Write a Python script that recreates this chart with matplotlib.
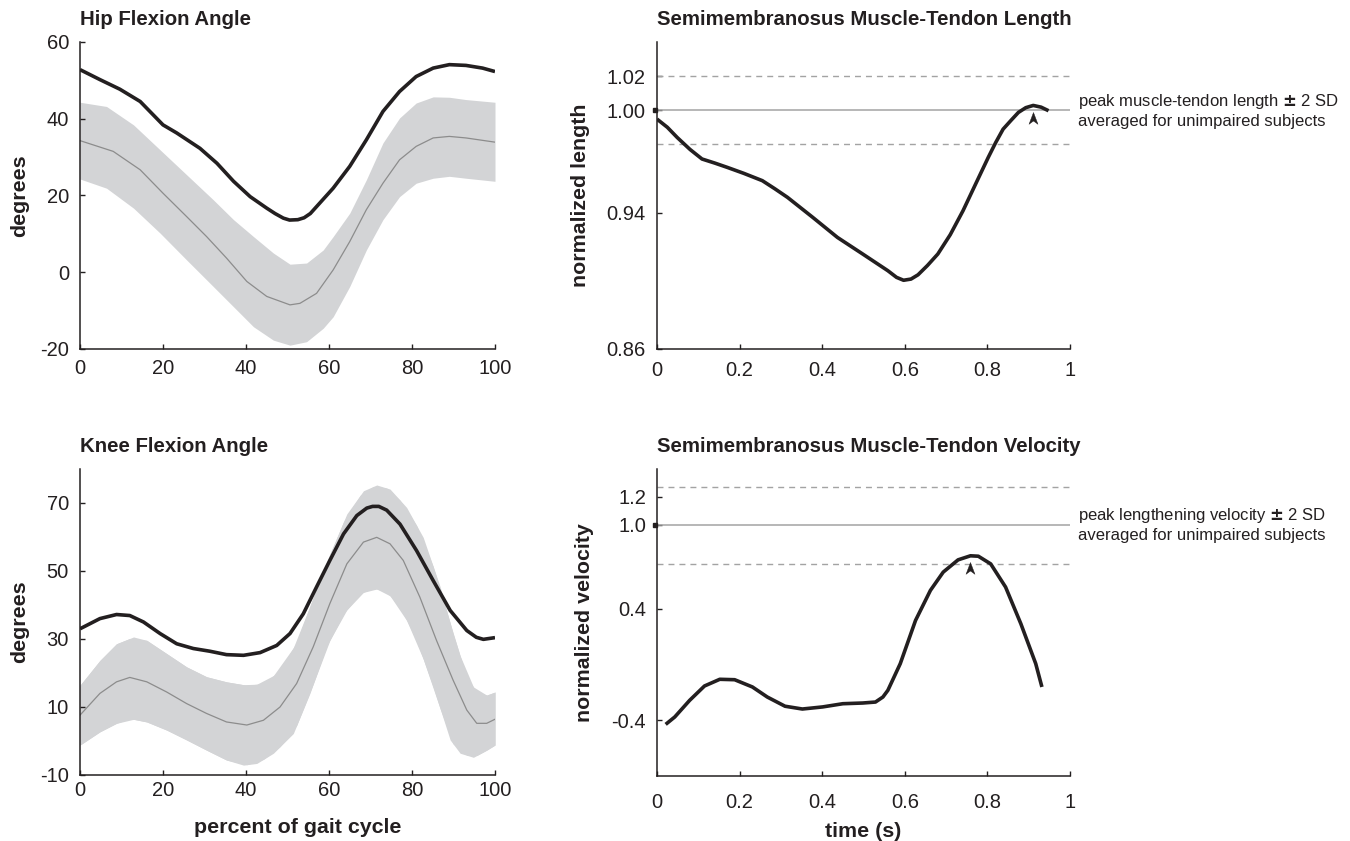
import numpy as np
import matplotlib
matplotlib.use("Agg")
import matplotlib.pyplot as plt
from matplotlib.path import Path
import matplotlib.transforms as mtransforms

plt.rcParams['font.family'] = ['Liberation Sans', 'DejaVu Sans']
plt.rcParams['axes.unicode_minus'] = False

# ---------------- data ----------------
hip_x = [0, 4.8, 9.6, 14.5, 20, 23.3, 28.9, 33, 37, 41, 45, 47, 49, 50.5, 52.5, 54, 55.5, 57, 61, 65, 69, 73, 77, 81, 85.1, 89, 93, 97, 100]
hip_subject = [52.8, 50.2, 47.7, 44.5, 38.4, 36.3, 32.3, 28.4, 23.7, 19.7, 16.7, 15.3, 14.1, 13.6, 13.7, 14.2, 15.3, 17.1, 21.9, 27.6, 34.5, 41.9, 47.1, 51.0, 53.2, 54.1, 53.9, 53.2, 52.3]

hip_band_x = [0, 6.4, 12.9, 19.3, 25.7, 32.1, 37, 41.8, 46.6, 50.6, 54.6, 58.6, 61, 65, 69, 73, 77, 81, 85.1, 89, 93, 100]
hip_upper = [44.3, 43.2, 38.4, 31.9, 25.4, 18.9, 13.7, 9.3, 5.0, 2.1, 2.4, 5.8, 9.3, 15.4, 24.1, 33.7, 40.2, 44.1, 45.7, 45.6, 45.0, 44.3]
hip_lower = [24.3, 21.9, 16.7, 10.2, 3.2, -3.7, -9.0, -14.2, -17.7, -19.0, -18.1, -14.6, -11.6, -3.7, 5.8, 13.7, 19.7, 23.2, 24.5, 25.0, 24.5, 23.7]

hip_mean_x = [0, 8, 14.5, 20, 25.7, 30.5, 35.3, 40.2, 45, 50.6, 53, 57, 61, 65, 69, 73, 77, 81, 85.1, 89, 93, 100]
hip_mean = [34.3, 31.5, 26.7, 20.6, 14.5, 9.3, 3.7, -2.4, -6.3, -8.5, -8.1, -5.5, 0.6, 8.0, 16.3, 23.2, 29.3, 32.8, 35.0, 35.4, 35.0, 33.9]

knee_x = [0, 4.8, 8.8, 12, 15.3, 19.3, 23.3, 27.3, 31.3, 35.3, 39.4, 43.4, 47.4, 50.6, 53.8, 57, 60.2, 63.5, 66.7, 69.1, 70.5, 72, 73.9, 77.1, 81.1, 85.1, 89.2, 93.2, 95.5, 97.2, 100]
knee_subject = [33.0, 36.0, 37.2, 36.9, 35.0, 31.6, 28.6, 27.2, 26.4, 25.4, 25.2, 26.0, 28.1, 31.6, 37.4, 45.3, 53.1, 60.9, 66.3, 68.5, 69.0, 69.0, 67.9, 63.8, 56.0, 47.2, 38.4, 32.5, 30.5, 29.9, 30.4]

knee_mean_x = [0, 4.8, 8.8, 12, 16.1, 20.9, 25.7, 30.5, 35.3, 40.2, 44.2, 48.2, 52.2, 56.2, 60.2, 64.3, 68.3, 71.5, 74.7, 77.9, 81.9, 85.9, 89.9, 93.2, 95.6, 98, 100]
knee_mean = [7.6, 14.0, 17.4, 18.7, 17.4, 14.4, 11.0, 8.1, 5.6, 4.7, 6.1, 10.0, 16.9, 27.7, 40.4, 52.1, 58.5, 59.9, 58.0, 53.1, 42.3, 29.6, 17.9, 9.1, 5.2, 5.2, 6.4]

knee_up_x = [0, 4.8, 8.8, 12.9, 16.1, 20.9, 25.7, 30.5, 35.3, 40.2, 44.2, 48.2, 52.2, 56.2, 60.2, 64.3, 68.3, 71.5, 74.7, 78.7, 82.7, 86.8, 89.9, 93.2, 95.6, 98, 100]
knee_upper = [16.4, 23.7, 28.6, 30.6, 29.6, 25.7, 21.8, 18.9, 17.4, 16.4, 16.9, 20.8, 29.1, 42.3, 55.0, 66.8, 73.6, 75.3, 74.1, 68.7, 59.9, 45.3, 31.6, 18.9, 14.4, 13.5, 14.4]
knee_lo_x = [0, 4.8, 8.8, 12, 16.1, 20.9, 25.7, 30.5, 35.3, 39.4, 42.6, 46.6, 51.4, 55.4, 59.4, 63.5, 67.5, 70.7, 73.9, 77.1, 81.1, 85.1, 89.2, 91.6, 94.8, 98, 100]
knee_lower = [-1.2, 2.7, 5.2, 6.6, 5.6, 3.2, 0.3, -2.7, -5.6, -7.1, -6.6, -3.6, 2.2, 14.0, 27.7, 37.4, 43.3, 45.0, 43.8, 39.4, 29.6, 15.9, 0.3, -3.6, -4.8, -2.7, -1.2]

len_t = [0, 0.025, 0.049, 0.08, 0.109, 0.14, 0.17, 0.21, 0.255, 0.285, 0.316, 0.377, 0.437, 0.498, 0.559, 0.58, 0.597, 0.615, 0.632, 0.655, 0.68, 0.71, 0.741, 0.772, 0.802, 0.82, 0.838, 0.857, 0.875, 0.893, 0.911, 0.93, 0.948]
len_val = [0.9948, 0.990, 0.984, 0.977, 0.9714, 0.969, 0.9665, 0.963, 0.9587, 0.954, 0.9489, 0.9372, 0.9254, 0.9157, 0.9059, 0.902, 0.9003, 0.901, 0.9035, 0.909, 0.9157, 0.927, 0.9411, 0.957, 0.9723, 0.981, 0.9889, 0.994, 0.9987, 1.0015, 1.0028, 1.0018, 0.9997]
len_ref = 1.00
len_sd_hi = 1.02
len_sd_lo = 0.98

vel_t = [0.021, 0.043, 0.079, 0.115, 0.152, 0.188, 0.231, 0.267, 0.31, 0.352, 0.401, 0.45, 0.498, 0.529, 0.547, 0.559, 0.589, 0.626, 0.662, 0.693, 0.729, 0.759, 0.778, 0.808, 0.844, 0.881, 0.917, 0.932]
vel_val = [-0.43, -0.377, -0.258, -0.155, -0.107, -0.11, -0.162, -0.234, -0.30, -0.32, -0.305, -0.282, -0.277, -0.27, -0.234, -0.186, 0.005, 0.315, 0.53, 0.661, 0.749, 0.778, 0.775, 0.72, 0.554, 0.291, 0.005, -0.162]
vel_ref = 1.0
vel_sd_hi = 1.27
vel_sd_lo = 0.72

# ---------------- style ----------------
INK = '#231f20'
BAND = '#d3d4d6'
MEAN = '#8c8c8c'
REF = '#a3a3a3'
TICK_FS = 14.5
LABEL_FS = 15.4
TITLE_FS = 14.7

fig = plt.figure(figsize=(13.5, 8.41), dpi=100)
W, H = 1350, 841

def make_ax(x0, x1, y0, y1):
    return fig.add_axes([x0 / W, 1 - y1 / H, (x1 - x0) / W, (y1 - y0) / H])

ax_hip = make_ax(80, 495, 42, 349)
ax_len = make_ax(657, 1070, 42, 349)
ax_knee = make_ax(80, 495, 469, 775)
ax_vel = make_ax(657, 1070, 469, 776)

def style(ax, xpad=8):
    for s in ['top', 'right']:
        ax.spines[s].set_visible(False)
    for s in ['left', 'bottom']:
        ax.spines[s].set_linewidth(1.1)
        ax.spines[s].set_color(INK)
    ax.tick_params(direction='in', length=3.5, width=1.0, color=INK,
                   labelsize=TICK_FS, labelcolor=INK)
    ax.tick_params(axis='x', pad=xpad)
    ax.tick_params(axis='y', pad=8)

# arrow marker (tip at origin)
arrow_path = Path([(0, 0), (-0.38, -1), (0, -0.72), (0.38, -1), (0, 0)],
                  [Path.MOVETO, Path.LINETO, Path.LINETO, Path.LINETO, Path.CLOSEPOLY])

CURVE = dict(color=INK, lw=2.6, solid_joinstyle='round', solid_capstyle='butt')

# ---- Hip ----
ax = ax_hip
style(ax, xpad=7)
ax.fill_between(hip_band_x, hip_lower, hip_upper, color=BAND, lw=0)
ax.plot(hip_mean_x, hip_mean, color=MEAN, lw=0.9)
ax.plot(hip_x, hip_subject, **CURVE)
ax.set_xlim(0, 100)
ax.set_ylim(-20, 60)
ax.set_xticks([0, 20, 40, 60, 80, 100])
ax.set_yticks([-20, 0, 20, 40, 60])
ax.set_yticklabels(['-20', '0', '20', '40', '60'])
ax.set_ylabel('degrees', fontsize=LABEL_FS, fontweight='bold', color=INK, va='center')
ax.yaxis.set_label_coords(-0.145, 0.5)
ax.set_title('Hip Flexion Angle', loc='left', fontsize=TITLE_FS, fontweight='bold', color=INK, pad=12)

# ---- Knee ----
ax = ax_knee
style(ax, xpad=4)
ax.fill_between(knee_up_x, np.interp(knee_up_x, knee_lo_x, knee_lower), knee_upper, color=BAND, lw=0)
ax.fill_between(knee_lo_x, knee_lower, np.interp(knee_lo_x, knee_up_x, knee_upper), color=BAND, lw=0)
ax.plot(knee_mean_x, knee_mean, color=MEAN, lw=0.9)
ax.plot(knee_x, knee_subject, **CURVE)
ax.set_xlim(0, 100)
ax.set_ylim(-10, 80)
ax.set_xticks([0, 20, 40, 60, 80, 100])
ax.set_yticks([-10, 10, 30, 50, 70])
ax.set_yticklabels(['-10', '10', '30', '50', '70'])
ax.set_ylabel('degrees', fontsize=LABEL_FS, fontweight='bold', color=INK, va='center')
ax.yaxis.set_label_coords(-0.145, 0.5)
ax.set_xlabel('percent of gait cycle', fontsize=LABEL_FS, fontweight='bold', color=INK, va='center')
ax.xaxis.set_label_coords(0.525, -0.173)
ax.set_title('Knee Flexion Angle', loc='left', fontsize=TITLE_FS, fontweight='bold', color=INK, pad=12)

def ref_lines(ax, ref, hi, lo, first, second):
    ax.axhline(ref, color=REF, lw=1.1, xmin=0, xmax=1)
    for v in (hi, lo):
        ax.axhline(v, color=REF, lw=1.0, dashes=(4.3, 3.6))
    ax.plot([0], [ref], marker='s', ms=3.2, color=INK, clip_on=False, zorder=5,
            transform=mtransforms.offset_copy(ax.transData, fig=fig, x=-1.2, y=0, units='points'))
    tr = ax.get_yaxis_transform()
    ax.text(1.02, ref, first + ' $\\mathbf{\\pm}$ 2 SD\n' + second, transform=tr, ha='left',
            va='center', fontsize=12, color=INK, linespacing=1.25, clip_on=False)

def peak_arrow(ax, t, v):
    i = int(np.argmax(v))
    tr = mtransforms.offset_copy(ax.transData, fig=fig, x=0, y=-4.5, units='points')
    ax.plot([t[i]], [v[i]], marker=arrow_path, ms=17, color=INK, mec=INK, mew=0.3,
            transform=tr, zorder=6)

# ---- Length ----
ax = ax_len
style(ax, xpad=9)
ref_lines(ax, len_ref, len_sd_hi, len_sd_lo,
          'peak muscle-tendon length', 'averaged for unimpaired subjects')
ax.plot(len_t, len_val, **CURVE)
peak_arrow(ax, len_t, len_val)
ax.set_xlim(0, 1)
ax.set_ylim(0.86, 1.04)
ax.set_xticks([0, 0.2, 0.4, 0.6, 0.8, 1.0])
ax.set_xticklabels(['0', '0.2', '0.4', '0.6', '0.8', '1'])
ax.set_yticks([0.86, 0.94, 1.00, 1.02])
ax.set_yticklabels(['0.86', '0.94', '1.00', '1.02'])
ax.set_ylabel('normalized length', fontsize=LABEL_FS, fontweight='bold', color=INK, va='center')
ax.yaxis.set_label_coords(-0.186, 0.5)
ax.set_title('Semimembranosus Muscle-Tendon Length', loc='left', fontsize=TITLE_FS,
             fontweight='bold', color=INK, pad=12)

# ---- Velocity ----
ax = ax_vel
style(ax, xpad=12)
ref_lines(ax, vel_ref, vel_sd_hi, vel_sd_lo,
          'peak lengthening velocity', 'averaged for unimpaired subjects')
ax.plot(vel_t, vel_val, **CURVE)
peak_arrow(ax, vel_t, vel_val)
ax.set_xlim(0, 1)
ax.set_ylim(-0.8, 1.4)
ax.set_xticks([0, 0.2, 0.4, 0.6, 0.8, 1.0])
ax.set_xticklabels(['0', '0.2', '0.4', '0.6', '0.8', '1'])
ax.set_yticks([-0.4, 0.4, 1.0, 1.2])
ax.set_yticklabels(['-0.4', '0.4', '1.0', '1.2'])
ax.set_ylabel('normalized velocity', fontsize=LABEL_FS, fontweight='bold', color=INK, va='center')
ax.yaxis.set_label_coords(-0.176, 0.5)
ax.set_xlabel('time (s)', fontsize=LABEL_FS, fontweight='bold', color=INK, va='center')
ax.xaxis.set_label_coords(0.5, -0.18)
ax.set_title('Semimembranosus Muscle-Tendon Velocity', loc='left', fontsize=TITLE_FS,
             fontweight='bold', color=INK, pad=12)

fig.savefig('out.png', dpi=100, facecolor='white')
